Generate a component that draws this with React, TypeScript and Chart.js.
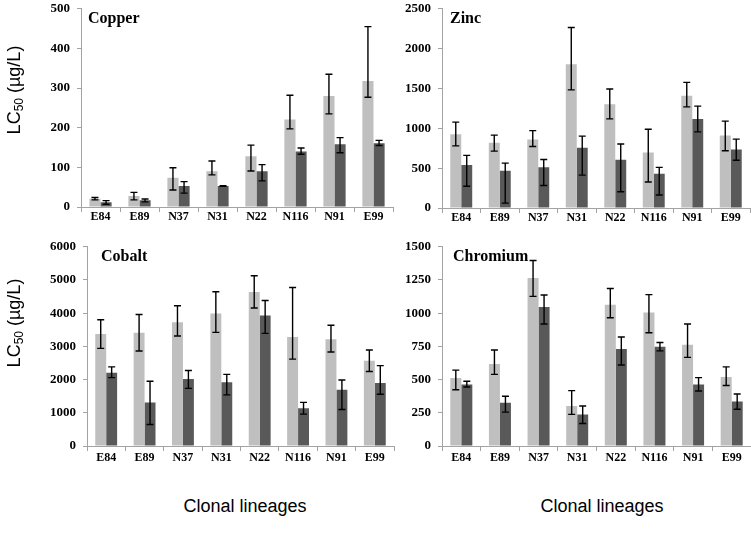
import React, { useEffect, useRef } from 'react';
import { Chart, registerables } from 'chart.js';

Chart.register(...registerables);

const categories = ['E84', 'E89', 'N37', 'N31', 'N22', 'N116', 'N91', 'E99'];

const copperLight = [21, 28, 74, 90, 128, 221, 280, 318];
const copperLightHi = [24, 37, 99, 116, 156, 282, 335, 455];
const copperLightLo = [18, 18, 43, 81, 91, 197, 235, 277];
const copperDark = [12, 17, 53, 53, 90, 140, 158, 161];
const copperDarkHi = [16, 20, 64, 54, 107, 149, 175, 168];
const copperDarkLo = [7, 13, 35, 52, 66, 133, 137, 155];

const zincLight = [926, 820, 861, 1804, 1302, 698, 1408, 910];
const zincLightHi = [1078, 914, 971, 2265, 1494, 988, 1576, 1090];
const zincLightLo = [780, 714, 771, 1482, 1118, 327, 1269, 718];
const zincDark = [539, 469, 510, 755, 604, 429, 1118, 735];
const zincDarkHi = [661, 563, 608, 902, 804, 510, 1278, 865];
const zincDarkLo = [273, 61, 282, 412, 204, 163, 955, 600];

const cobaltLight = [3373, 3412, 3725, 3990, 4637, 3284, 3216, 2569];
const cobaltLightHi = [3804, 3961, 4225, 4647, 5127, 4775, 3637, 2892];
const cobaltLightLo = [2941, 2863, 3314, 3422, 4157, 2618, 2833, 2245];
const cobaltDark = [2206, 1314, 2020, 1922, 3931, 1137, 1696, 1900];
const cobaltDarkHi = [2382, 1951, 2275, 2157, 4382, 1314, 1990, 2420];
const cobaltDarkLo = [2059, 647, 1735, 1539, 3392, 961, 1098, 1560];

const chromiumLight = [512, 618, 1265, 301, 1064, 1005, 762, 520];
const chromiumLightHi = [571, 723, 1397, 417, 1186, 1140, 919, 596];
const chromiumLightLo = [424, 539, 1127, 238, 966, 853, 667, 456];
const chromiumDark = [463, 326, 1047, 238, 730, 748, 463, 336];
const chromiumDarkHi = [488, 375, 1137, 301, 821, 779, 515, 392];
const chromiumDarkLo = [444, 255, 919, 169, 610, 716, 414, 277];

const panelTitles = ['Copper', 'Zinc', 'Cobalt', 'Chromium'];
const yMax = [500, 2500, 6000, 1500];
const yStep = [100, 500, 1000, 250];

const LIGHT = '#bfbfbf';
const DARK = '#595959';
const AXIS = '#a3a3a3';
const SERIF = '"Liberation Serif", "Times New Roman", serif';
const SANS = '"Liberation Sans", Arial, sans-serif';

type Panel = {
  title: string;
  max: number;
  step: number;
  light: number[];
  lightHi: number[];
  lightLo: number[];
  dark: number[];
  darkHi: number[];
  darkLo: number[];
  l: number;
  r: number;
  t: number;
  b: number;
  xPad: number;
  titleDx: number;
};

const panels: Panel[] = [
  { title: panelTitles[0], max: yMax[0], step: yStep[0], light: copperLight, lightHi: copperLightHi, lightLo: copperLightLo, dark: copperDark, darkHi: copperDarkHi, darkLo: copperDarkLo, l: 81, r: 393, t: 4, b: 207, xPad: -2, titleDx: 7 },
  { title: panelTitles[1], max: yMax[1], step: yStep[1], light: zincLight, lightHi: zincLightHi, lightLo: zincLightLo, dark: zincDark, darkHi: zincDarkHi, darkLo: zincDarkLo, l: 442, r: 750, t: 4, b: 208, xPad: -2, titleDx: 8 },
  { title: panelTitles[2], max: yMax[2], step: yStep[2], light: cobaltLight, lightHi: cobaltLightHi, lightLo: cobaltLightLo, dark: cobaltDark, darkHi: cobaltDarkHi, darkLo: cobaltDarkLo, l: 87, r: 394, t: 242, b: 446, xPad: 0, titleDx: 14 },
  { title: panelTitles[3], max: yMax[3], step: yStep[3], light: chromiumLight, lightHi: chromiumLightHi, lightLo: chromiumLightLo, dark: chromiumDark, darkHi: chromiumDarkHi, darkLo: chromiumDarkLo, l: 442, r: 751, t: 242, b: 446, xPad: 0, titleDx: 11 },
];

const errorBarPlugin = {
  id: 'errorBars',
  afterDatasetsDraw(chart: any) {
    const ctx = chart.ctx;
    const yScale = chart.scales.y;
    ctx.save();
    ctx.strokeStyle = '#000';
    ctx.lineWidth = 1.4;
    chart.data.datasets.forEach((ds: any, di: number) => {
      const meta = chart.getDatasetMeta(di);
      meta.data.forEach((bar: any, i: number) => {
        const x = bar.x;
        const yHi = yScale.getPixelForValue(ds.errHi[i]);
        const yLo = yScale.getPixelForValue(ds.errLo[i]);
        const cap = 3.5;
        ctx.beginPath();
        ctx.moveTo(x, yHi);
        ctx.lineTo(x, yLo);
        ctx.moveTo(x - cap, yHi);
        ctx.lineTo(x + cap, yHi);
        ctx.moveTo(x - cap, yLo);
        ctx.lineTo(x + cap, yLo);
        ctx.stroke();
      });
    });
    ctx.restore();
  },
};

const panelTitlePlugin = {
  id: 'panelTitle',
  afterDraw(chart: any, _args: any, opts: any) {
    const ctx = chart.ctx;
    const area = chart.chartArea;
    ctx.save();
    ctx.fillStyle = '#000';
    ctx.font = `bold 16px ${SERIF}`;
    ctx.textBaseline = 'alphabetic';
    ctx.textAlign = 'left';
    ctx.fillText(opts.text, area.left + opts.dx, area.top + 14.6);
    ctx.restore();
  },
};

const Y_W = 60;
const PAD_TOP = 10;
const X_H = 32;

function PanelChart({ p }: { p: Panel }) {
  const ref = useRef<HTMLCanvasElement>(null);
  const padRight = p.r >= 751 ? 0 : 1;
  const left = p.l - Y_W;
  const top = p.t - PAD_TOP;
  const width = Math.round(p.r - p.l + Y_W + padRight);
  const height = Math.round(p.b - p.t + PAD_TOP + X_H);

  useEffect(() => {
    if (!ref.current) return;
    const chart = new Chart(ref.current, {
      type: 'bar',
      data: {
        labels: categories,
        datasets: [
          { data: p.light, backgroundColor: LIGHT, borderWidth: 0, errHi: p.lightHi, errLo: p.lightLo } as any,
          { data: p.dark, backgroundColor: DARK, borderWidth: 0, errHi: p.darkHi, errLo: p.darkLo } as any,
        ],
      },
      options: {
        responsive: false,
        animation: false,
        events: [],
        categoryPercentage: 0.57,
        barPercentage: 1.0,
        layout: { padding: { top: PAD_TOP, right: padRight, left: 0, bottom: 0 } },
        plugins: {
          legend: { display: false },
          tooltip: { enabled: false },
          title: { display: false },
          panelTitle: { text: p.title, dx: p.titleDx },
        } as any,
        scales: {
          x: {
            grid: { display: true, drawOnChartArea: false, drawTicks: true, tickLength: 5, color: AXIS, offset: true },
            border: { display: true, color: AXIS, width: 1 },
            ticks: { color: '#000', font: { family: SERIF, size: 12, weight: 'bold' }, padding: p.xPad, maxRotation: 0, autoSkip: false },
            afterFit: (s: any) => { s.height = X_H; },
          },
          y: {
            min: 0,
            max: p.max,
            grid: { display: true, drawOnChartArea: false, drawTicks: true, tickLength: 4, color: AXIS },
            border: { display: true, color: AXIS, width: 1 },
            ticks: {
              stepSize: p.step,
              color: '#000',
              padding: 7,
              font: { family: SERIF, size: 13, weight: 'bold' },
              callback: (v: any) => String(v),
            },
            afterFit: (s: any) => { s.width = Y_W; },
          },
        },
      },
      plugins: [errorBarPlugin, panelTitlePlugin],
    });
    return () => chart.destroy();
  }, []);

  return (
    <canvas
      ref={ref}
      width={width}
      height={height}
      style={{ position: 'absolute', left, top, width, height }}
    />
  );
}

const yLabelStyle = (cy: number): React.CSSProperties => ({
  position: 'absolute',
  left: 14,
  top: cy,
  transform: 'translate(-50%, -50%) rotate(-90deg)',
  whiteSpace: 'nowrap',
  fontFamily: SANS,
  fontSize: 18,
  lineHeight: '20px',
  color: '#000',
});

const xLabelStyle = (cx: number): React.CSSProperties => ({
  position: 'absolute',
  left: cx,
  top: 506,
  transform: 'translate(-50%, -50%)',
  whiteSpace: 'nowrap',
  fontFamily: SANS,
  fontSize: 18,
  lineHeight: '20px',
  color: '#000',
});

const subStyle: React.CSSProperties = { fontSize: 12, verticalAlign: '-3px', lineHeight: 0 };

export default function App() {
  return (
    <div style={{ position: 'absolute', left: 0, top: 0, width: 751, height: 541, background: '#fff', overflow: 'hidden' }}>
      {panels.map((p) => (
        <PanelChart key={p.title} p={p} />
      ))}
      <div style={yLabelStyle(90)}>LC<span style={subStyle}>50</span> (µg/L)</div>
      <div style={yLabelStyle(323)}>LC<span style={subStyle}>50</span> (µg/L)</div>
      <div style={xLabelStyle(245)}>Clonal lineages</div>
      <div style={xLabelStyle(602)}>Clonal lineages</div>
    </div>
  );
}
